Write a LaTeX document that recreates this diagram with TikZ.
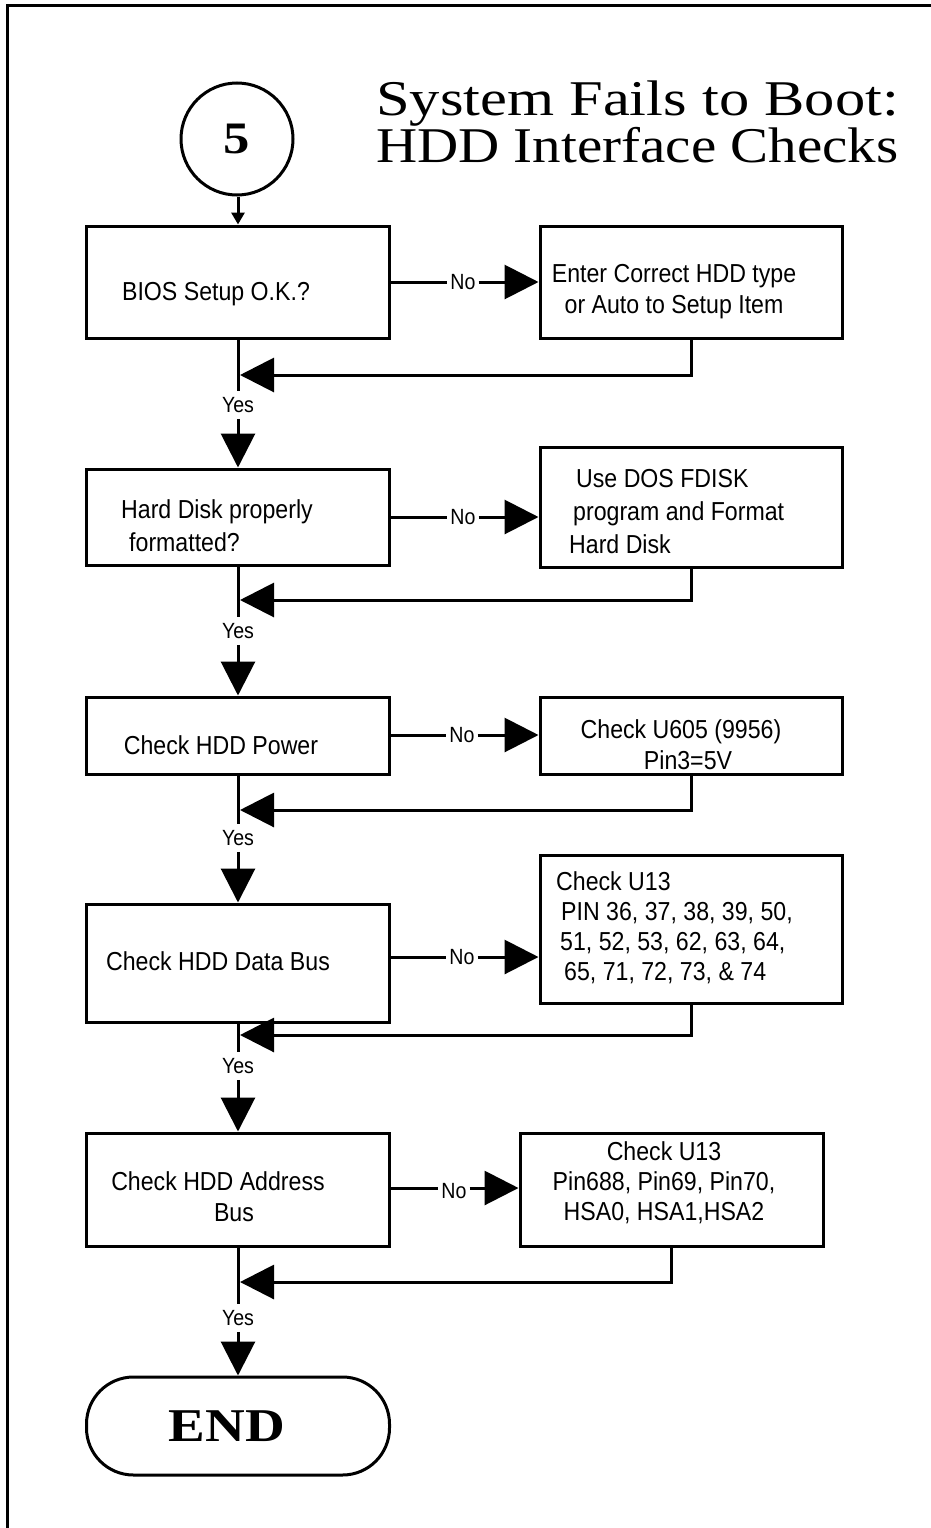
\documentclass[tikz,border=0pt]{standalone}
\usepackage{fontspec}
\setmainfont{Liberation Serif}
\newfontfamily\sansn[FakeStretch=0.89]{Liberation Sans}
\newfontfamily\serifw[FakeStretch=1.17]{Liberation Serif}
\newfontfamily\serifa[FakeStretch=1.21]{Liberation Serif}
\newfontfamily\serifb[FakeStretch=1.14]{Liberation Serif}
\usetikzlibrary{arrows.meta}
\tikzset{
 ln/.style={line width=3pt},
 box/.style={draw, line width=3pt, inner sep=0pt},
 txt/.style={font=\sansn\fontsize{26}{31}\selectfont, inner sep=0pt},
 lbl/.style={font=\sansn\fontsize{22}{25}\selectfont, inner xsep=3pt, inner ysep=6pt},
 big/.style={-{Triangle[length=34pt,width=34pt]}},
 small/.style={-{Triangle[length=12pt,width=13pt]}},
 ttl/.style={anchor=base west, inner sep=0pt},
}
\begin{document}
\begin{tikzpicture}[x=1pt,y=-1pt]
\useasboundingbox (0,0) rectangle (931,1528);
\draw[ln] (931,6) -- (7,6) -- (7,1528);

% title and connector circle
\node[circle, draw, line width=3pt, minimum size=112pt, inner sep=0pt, font=\serifw\bfseries\fontsize{45}{45}\selectfont] (c5) at (237,139) {5};
\node[ttl, font=\serifa\fontsize{50}{50}\selectfont] (ti1) at (376,115) {System Fails to Boot:};
\node[ttl, font=\serifb\fontsize{50}{50}\selectfont] (ti2) at (376,162) {HDD Interface Checks};

% left column boxes
\node[box, minimum width=303pt, minimum height=112pt] (b1) at (238,282) {};
\node[box, minimum width=303pt, minimum height=96pt]  (b2) at (238,517) {};
\node[box, minimum width=303pt, minimum height=77pt]  (b3) at (238,735.5) {};
\node[box, minimum width=303pt, minimum height=118pt] (b4) at (238,963) {};
\node[box, minimum width=303pt, minimum height=113pt] (b5) at (238,1189.5) {};
\node[box, rounded corners=47pt, minimum width=303pt, minimum height=98pt, font=\serifw\bfseries\fontsize{47}{47}\selectfont] (end) at (238,1426) {\hspace*{-22pt}END};

% right column boxes
\node[box, minimum width=302pt, minimum height=112pt] (r1) at (691,282) {};
\node[box, minimum width=302pt, minimum height=120pt] (r2) at (691,507) {};
\node[box, minimum width=302pt, minimum height=77pt]  (r3) at (691,735.5) {};
\node[box, minimum width=302pt, minimum height=148pt] (r4) at (691,929) {};
\node[box, minimum width=303pt, minimum height=113pt] (r5) at (671.5,1189.5) {};

% texts
\node[txt] (t1) at (216,294) {BIOS Setup O.K.?};
\node[txt, align=center] (tr1) at (674,292) {Enter Correct HDD type\\or Auto to Setup Item};
\node[txt, align=left, anchor=west] (t2) at (121,526) {Hard Disk properly\\[2pt]\hspace*{8pt}formatted?};
\node[txt, align=left, anchor=west] (tr2) at (569,512) {\hspace*{7pt}Use DOS FDISK\\[2pt]\hspace*{4pt}program and Format\\[2pt]Hard Disk};
\node[txt] (t3) at (221,745) {Check HDD Power};
\node[txt, align=center] (tr3) at (681,745) {Check U605 (9956)\\\hspace*{14pt}Pin3=5V};
\node[txt] (t4) at (218,961) {Check HDD Data Bus};
\node[txt, align=left, anchor=west] (tr4) at (556,928) {Check U13\\[-1pt]\hspace*{5pt}PIN 36, 37, 38, 39, 50,\\[-1pt]\hspace*{4pt}51, 52, 53, 62, 63, 64,\\[-1pt]\hspace*{8pt}65, 71, 72, 73, \& 74};
\node[txt, align=center] (t5) at (218,1197) {Check HDD Address\\\hspace*{32pt}Bus};
\node[txt, align=center] (tr5) at (664,1183) {Check U13\\[-1pt]Pin688, Pin69, Pin70,\\[-1pt]HSA0, HSA1,HSA2};

% labels
\node[lbl] (no1) at (463,282) {No};
\node[lbl] (no2) at (463,517) {No};
\node[lbl] (no3) at (462,735) {No};
\node[lbl] (no4) at (462,957) {No};
\node[lbl] (no5) at (454,1191) {No};
\node[lbl] (y1) at (238,405) {Yes};
\node[lbl] (y2) at (238,631) {Yes};
\node[lbl] (y3) at (238,838) {Yes};
\node[lbl] (y4) at (238,1066) {Yes};
\node[lbl] (y5) at (238,1318) {Yes};

% loop-back levels
\coordinate (k1) at (692,375);
\coordinate (k2) at (692,600);
\coordinate (k3) at (692,810);
\coordinate (k4) at (692,1035);
\coordinate (k5) at (673,1282);

% connectors
\draw[ln,small] (c5.south -| b1.north) -- (b1.north);

\draw[ln] (b1.east |- no1) -- (no1.west);
\draw[ln,big] (no1.east) -- (r1.west |- no1);
\draw[ln,big,shorten >=2pt] (r1.south) |- (b1.south |- k1);
\draw[ln] (b1.south) -- (y1.north);
\draw[ln,big] (y1.south) -- (b2.north);

\draw[ln] (b2.east |- no2) -- (no2.west);
\draw[ln,big] (no2.east) -- (r2.west |- no2);
\draw[ln,big,shorten >=2pt] (r2.south) |- (b2.south |- k2);
\draw[ln] (b2.south) -- (y2.north);
\draw[ln,big] (y2.south) -- (b3.north);

\draw[ln] (b3.east |- no3) -- (no3.west);
\draw[ln,big] (no3.east) -- (r3.west |- no3);
\draw[ln,big,shorten >=2pt] (r3.south) |- (b3.south |- k3);
\draw[ln] (b3.south) -- (y3.north);
\draw[ln,big] (y3.south) -- (b4.north);

\draw[ln] (b4.east |- no4) -- (no4.west);
\draw[ln,big] (no4.east) -- (r4.west |- no4);
\draw[ln,big,shorten >=2pt] (r4.south) |- (b4.south |- k4);
\draw[ln] (b4.south) -- (y4.north);
\draw[ln,big] (y4.south) -- (b5.north);

\draw[ln] (b5.east |- 0,1188) -- (no5.west |- 0,1188);
\draw[ln,big] (no5.east |- 0,1188) -- (r5.west |- 0,1188);
\draw[ln,big,shorten >=2pt] (r5.south) |- (b5.south |- k5);
\draw[ln] (b5.south) -- (y5.north);
\draw[ln,big] (y5.south) -- (end.north);
\end{tikzpicture}
\end{document}
